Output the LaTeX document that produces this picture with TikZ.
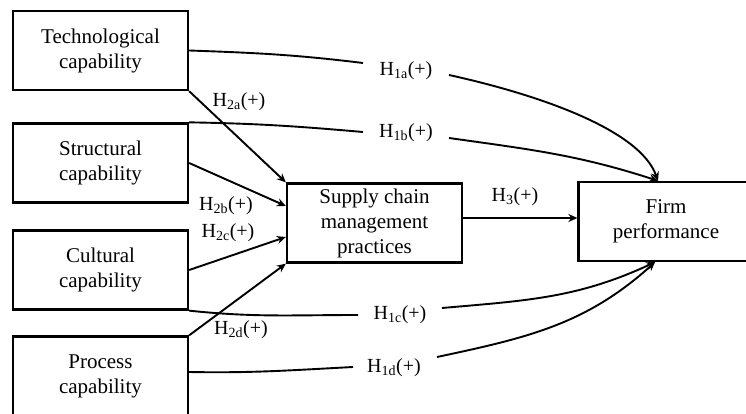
\documentclass[tikz,border=0pt]{standalone}
\usepackage{fontspec}
\setmainfont{Liberation Serif}
\usetikzlibrary{arrows.meta}
\begin{document}
\begin{tikzpicture}[x=1pt,y=-1pt,
 box/.style={draw,line width=2.3pt,minimum width=175pt,minimum height=79pt,align=center,inner sep=0pt,font=\fontsize{21}{25}\selectfont},
 lab/.style={inner sep=1pt,font=\fontsize{20}{24}\selectfont},
 arr/.style={line width=1.9pt,-{Stealth[length=9pt,width=8pt,inset=3pt]}},
 ln/.style={line width=1.9pt}]
\useasboundingbox (0,0) rectangle (746,414);
\node[box] (tech) at (100.5,50.5) {Technological\\capability};
\node[box] (str) at (100.5,163) {Structural\\capability};
\node[box] (cul) at (100.5,270) {Cultural\\capability};
\node[box] (pro) at (100.5,376) {Process\\capability};
\node[box] (scm) at (374.5,223) {Supply chain\\management\\practices};
\node[box] (firm) at (666,221.5) {Firm\\performance};
% labels
\node[lab] (l1a) at (406,71) {H\textsubscript{1a}(+)};
\node[lab] (l1b) at (406,133) {H\textsubscript{1b}(+)};
\node[lab] (l1c) at (400,315) {H\textsubscript{1c}(+)};
\node[lab] (l1d) at (394,368) {H\textsubscript{1d}(+)};
\node[lab] (l2a) at (239,102) {H\textsubscript{2a}(+)};
\node[lab] (l2b) at (226,206) {H\textsubscript{2b}(+)};
\node[lab] (l2c) at (228,233) {H\textsubscript{2c}(+)};
\node[lab] (l2d) at (241,330) {H\textsubscript{2d}(+)};
\node[lab] (l3) at (515,197) {H\textsubscript{3}(+)};
% segment ends around H1 labels
\coordinate (a1) at (363,63);  \coordinate (a2) at (449,75);
\coordinate (b1) at (363,132); \coordinate (b2) at (449,138);
\coordinate (c1) at (358,315); \coordinate (c2) at (442,308);
\coordinate (d1) at (353,367); \coordinate (d2) at (437,357);
\coordinate (ftop) at ([xshift=-8pt]firm.north);
\coordinate (fbot) at ([xshift=-11pt]firm.south);
% H2 arrows
\draw[arr] (tech.south east) -- (scm.north west);
\draw[arr] (str.east) -- ([yshift=17pt]scm.west);
\draw[arr] (cul.east) -- ([yshift=-14pt]scm.west);
\draw[arr] (pro.north east) -- (scm.south west);
% H3
\coordinate (h3s) at ([yshift=5pt]scm.east);
\draw[arr] (h3s) -- (h3s -| firm.west);
% H1 curves
\draw[ln] (tech.east) to[out=-2,in=173] (a1);
\draw[arr] (a2) .. controls (540,95) and (640,130) .. (ftop);
\draw[ln] (str.north east) to[out=-1,in=175] (b1);
\draw[arr] (b2) to[out=-8,in=162] (ftop);
\draw[ln] (cul.south east) to[out=-6,in=180] (c1);
\draw[arr] (c2) to[out=5,in=-155] (fbot);
\draw[ln] ([yshift=4pt]pro.east) to[out=-1,in=-177] (d1);
\draw[arr] (d2) to[out=12,in=-138] (fbot);
\end{tikzpicture}
\end{document}
